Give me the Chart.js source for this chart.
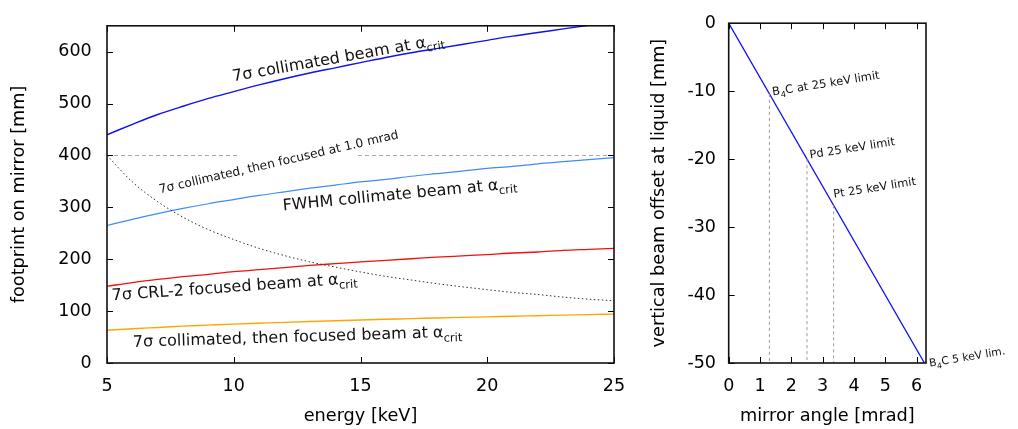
<!DOCTYPE html>
<html lang="en">
<head>
<meta charset="UTF-8">
<title>Mirror footprint and beam offset</title>
<script src="https://cdn.jsdelivr.net/npm/chart.js"></script>
<style>
  body { margin: 0; background: #fff; }
  .panel { position: absolute; top: 0; }
</style>
</head>
<body>
<div class="panel" style="left:0"><canvas id="footprint" width="640" height="429"></canvas></div>
<div class="panel" style="left:640px"><canvas id="offset" width="378" height="429"></canvas></div>

<script>
// footprint on the mirror vs photon energy [keV] -> [mm]
const energy         = [5, 6, 7, 8, 9, 10, 11, 12, 13, 14, 15, 16, 17, 18, 19, 20, 21, 22, 23, 24, 25];
const collimated7    = [440, 460, 479, 495, 510, 523, 536, 548, 559, 569, 579, 589, 598, 606, 614, 622, 630, 637, 644, 651, 658];
const fwhmCollimated = [265, 277, 288, 298, 307, 315, 323, 330, 337, 343, 349, 354, 360, 365, 370, 375, 379, 384, 388, 392, 396];
const crlFocused     = [148, 155, 161, 166.5, 171, 176, 180, 184, 188, 191.5, 195, 198, 201, 204, 206.5, 209, 212, 214, 217, 219, 221];
const collFocused    = [63, 66, 68.5, 71, 73, 75, 76.7, 78.4, 80, 81.5, 83, 84.3, 85.5, 86.8, 88, 89, 90.2, 91.2, 92.3, 93.3, 94.2];
const focused1mrad   = [400, 349, 311, 281, 257, 238, 221, 207, 195, 185, 175.5, 167, 160, 153, 147, 141.4, 136, 132, 127, 123, 120];
const fixedFootprint = 400;
const fixedSpans     = [[5, 10.25], [14.9, 25]];
const energyTicks    = [5, 10, 15, 20, 25];
const footprintTicks = [0, 100, 200, 300, 400, 500, 600];

// beam offset at the liquid vs mirror angle [mrad] -> [mm]
const mirrorAngle  = [0, 6.25];
const beamOffset   = [0, -50];
const limitAngles  = [1.3, 2.5, 3.35];
const limitOffsets = [-10.4, -20, -26.8];
const angleTicks   = [0, 1, 2, 3, 4, 5, 6];
const offsetTicks  = [0, -10, -20, -30, -40, -50];

const FONT = "'DejaVu Sans', sans-serif";
Chart.defaults.font.family = FONT;
Chart.defaults.color = '#000';

const pts = (xs, ys) => xs.map((x, i) => ({ x: x, y: ys[i] }));

// dashed reference level with a gap where its label sits
const fixedData = [];
fixedSpans.forEach((s, i) => {
  if (i > 0) fixedData.push({ x: (fixedSpans[i - 1][1] + s[0]) / 2, y: null });
  fixedData.push({ x: s[0], y: fixedFootprint }, { x: s[1], y: fixedFootprint });
});

// plot frame with tick marks pointing inward (gnuplot style)
const framePlugin = {
  id: 'frame',
  afterDatasetsDraw(chart, args, opts) {
    const { ctx, chartArea: a, scales: { x, y } } = chart;
    const len = 6;
    ctx.save();
    ctx.strokeStyle = '#000';
    ctx.lineWidth = 1;
    ctx.beginPath();
    x.ticks.forEach(t => {
      const px = Math.round(x.getPixelForValue(t.value)) + 0.5;
      ctx.moveTo(px, a.bottom); ctx.lineTo(px, a.bottom - len);
      ctx.moveTo(px, a.top); ctx.lineTo(px, a.top + len);
    });
    y.ticks.forEach(t => {
      const py = Math.round(y.getPixelForValue(t.value)) + 0.5;
      ctx.moveTo(a.left, py); ctx.lineTo(a.left + len, py);
      if (opts.rightTicks) { ctx.moveTo(a.right, py); ctx.lineTo(a.right - len, py); }
    });
    ctx.stroke();
    ctx.lineWidth = 1.6;
    ctx.strokeStyle = '#111';
    ctx.strokeRect(a.left, a.top, a.right - a.left, a.bottom - a.top);
    ctx.restore();
  }
};

// rotated text labels; "_{...}" is drawn as a subscript
const notesPlugin = {
  id: 'notes',
  afterDraw(chart, args, opts) {
    const { ctx, scales: { x, y } } = chart;
    (opts.items || []).forEach(n => {
      ctx.save();
      ctx.translate(x.getPixelForValue(n.x), y.getPixelForValue(n.y));
      ctx.rotate(-n.angle * Math.PI / 180);
      ctx.fillStyle = '#111';
      ctx.textBaseline = 'alphabetic';
      ctx.textAlign = 'left';
      let cx = 0;
      n.text.split(/_\{([^}]*)\}/).forEach((part, i) => {
        const sub = i % 2 === 1;
        ctx.font = (sub ? n.size * 0.72 : n.size) + 'px ' + FONT;
        ctx.fillText(part, cx, sub ? n.size * 0.28 : 0);
        cx += ctx.measureText(part).width;
      });
      ctx.restore();
    });
  }
};

function axis(min, max, tickList, title, extra) {
  return Object.assign({
    type: 'linear', min: min, max: max,
    afterBuildTicks: s => { s.ticks = tickList.map(v => ({ value: v })); },
    grid: { display: false, drawTicks: false },
    border: { display: false },
    ticks: { font: { size: 17.5 }, color: '#000', padding: 12.6, callback: v => String(v) },
    title: { display: true, text: title, font: { size: 17.7 }, color: '#000', padding: { top: 9, bottom: 2.4 } }
  }, extra);
}

new Chart(document.getElementById('footprint'), {
  type: 'line',
  data: {
    datasets: [
      { data: fixedData, borderColor: '#a8a8a8', borderDash: [4, 3], borderWidth: 1, spanGaps: false },
      { data: pts(energy, focused1mrad), borderColor: '#333', borderDash: [1.5, 2.5], borderWidth: 1 },
      { data: pts(energy, collimated7), borderColor: '#1010f0', borderWidth: 1.4 },
      { data: pts(energy, fwhmCollimated), borderColor: '#3d8cfa', borderWidth: 1.2 },
      { data: pts(energy, crlFocused), borderColor: '#f01010', borderWidth: 1.3 },
      { data: pts(energy, collFocused), borderColor: '#ffa500', borderWidth: 1.4 }
    ]
  },
  options: {
    responsive: false,
    animation: false,
    parsing: false,
    elements: { point: { radius: 0 }, line: { cubicInterpolationMode: 'monotone' } },
    layout: { padding: { left: 0, right: 26, top: 10, bottom: 0 } },
    plugins: {
      legend: { display: false },
      tooltip: { enabled: false },
      frame: { rightTicks: true },
      notes: {
        items: [
          { text: '7σ collimated beam at α_{crit}', x: 9.98, y: 543, angle: 10, size: 16 },
          { text: '7σ collimated, then focused at 1.0 mrad', x: 7.09, y: 327, angle: 13, size: 12.2 },
          { text: 'FWHM collimate beam at α_{crit}', x: 11.95, y: 294, angle: 5.5, size: 16 },
          { text: '7σ CRL-2 focused beam at α_{crit}', x: 5.2, y: 121, angle: 4, size: 16 },
          { text: '7σ collimated, then focused beam at α_{crit}', x: 6.03, y: 31, angle: 1.8, size: 16 }
        ]
      }
    },
    scales: {
      x: axis(5, 25, energyTicks, 'energy [keV]', {
        afterFit: s => { s.height = 66; }
      }),
      y: axis(0, 650, footprintTicks, 'footprint on mirror [mm]', {
        afterFit: s => { s.width = 107; }
      })
    }
  },
  plugins: [framePlugin, notesPlugin]
});

const offsetY = axis(-50, 0, offsetTicks, 'vertical beam offset at liquid [mm]', {
  afterFit: s => { s.width = 88.7; }
});
offsetY.ticks.padding = 12.7;

new Chart(document.getElementById('offset'), {
  type: 'line',
  data: {
    datasets: limitAngles.map((a, i) => ({
      data: [{ x: a, y: limitOffsets[i] }, { x: a, y: -50 }],
      borderColor: '#9a9a9a', borderDash: [3, 3], borderWidth: 1
    })).concat([
      { data: pts(mirrorAngle, beamOffset), borderColor: '#1010f0', borderWidth: 1.3 }
    ])
  },
  options: {
    responsive: false,
    animation: false,
    parsing: false,
    elements: { point: { radius: 0 } },
    layout: { padding: { left: 0, right: 92, top: 12.3, bottom: 0 } },
    plugins: {
      legend: { display: false },
      tooltip: { enabled: false },
      frame: { rightTicks: false },
      notes: {
        items: [
          { text: 'B_{4}C at 25 keV limit', x: 1.41, y: -10.65, angle: 9, size: 11.5 },
          { text: 'Pd 25 keV limit', x: 2.6, y: -19.9, angle: 9, size: 11.5 },
          { text: 'Pt 25 keV limit', x: 3.36, y: -25.7, angle: 9, size: 11.5 },
          { text: 'B_{4}C 5 keV lim.', x: 6.42, y: -50.57, angle: 9.5, size: 10.8 }
        ]
      }
    },
    scales: {
      x: axis(0, 6.3, angleTicks, 'mirror angle [mrad]', {
        afterFit: s => { s.height = 66; }
      }),
      y: offsetY
    }
  },
  plugins: [framePlugin, notesPlugin]
});

// the footprint axis labels sit a little further from the frame
Chart.getChart('footprint').options.scales.y.ticks.padding = 15.3;
Chart.getChart('footprint').update();
</script>
</body>
</html>
